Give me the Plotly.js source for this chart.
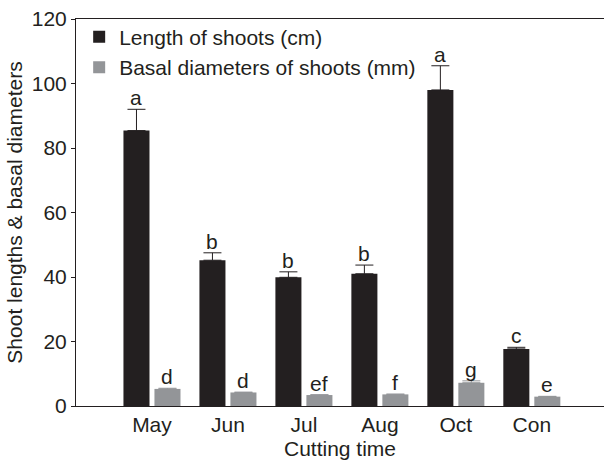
<!DOCTYPE html>
<html>
<head>
<meta charset="utf-8">
<script src="https://cdn.plot.ly/plotly-3.0.1.min.js"></script>
<style>html,body{margin:0;padding:0;background:#fff;}#chart{width:604px;height:463px;}</style>
</head>
<body>
<div id="chart"></div>
<script>
const categories = ["May", "Jun", "Jul", "Aug", "Oct", "Con"];
const lengthValues = [85.4, 45.2, 39.9, 41.0, 98.0, 17.7];
const lengthErrors = [6.6, 2.3, 1.7, 2.7, 7.5, 0.5];
const lengthLetters = ["a", "b", "b", "b", "a", "c"];
const diameterValues = [5.3, 4.2, 3.4, 3.6, 7.2, 2.9];
const diameterErrors = [0.2, 0.1, 0.1, 0.1, 0.6, 0.1];
const diameterLetters = ["d", "d", "ef", "f", "g", "e"];
const seriesNames = ["Length of shoots (cm)", "Basal diameters of shoots (mm)"];

const DARK = "#231f20";
const GRAY = "#939598";
const FONT = "Liberation Sans, Arial, Helvetica, sans-serif";
const FS = 21;

const traces = [
  {
    type: "bar", name: seriesNames[0], x: categories, y: lengthValues,
    marker: {color: DARK, line: {width: 0}},
    error_y: {type: "data", array: lengthErrors, symmetric: false, arrayminus: lengthErrors.map(() => 0), color: DARK, thickness: 1, width: 9},
    hoverinfo: "x+y"
  },
  {
    type: "bar", name: seriesNames[1], x: categories, y: diameterValues,
    marker: {color: GRAY, line: {width: 0}},
    error_y: {type: "data", array: diameterErrors, symmetric: false, arrayminus: diameterErrors.map(() => 0), color: GRAY, thickness: 1, width: 9},
    hoverinfo: "x+y"
  }
];

const annotations = [];
categories.forEach((c, i) => {
  annotations.push({x: c, y: lengthValues[i] + lengthErrors[i], xref: "x", yref: "y", text: lengthLetters[i], showarrow: false, yanchor: "bottom", xshift: -15.5, yshift: -2, font: {family: FONT, size: FS, color: DARK}});
  annotations.push({x: c, y: diameterValues[i] + diameterErrors[i], xref: "x", yref: "y", text: diameterLetters[i], showarrow: false, yanchor: "bottom", xshift: 15.5, yshift: -2, font: {family: FONT, size: FS, color: DARK}});
});

const layout = {
  width: 604, height: 463,
  margin: {l: 76, r: 0, t: 19, b: 57, pad: 0},
  paper_bgcolor: "#fff", plot_bgcolor: "#fff",
  font: {family: FONT, size: FS, color: DARK},
  barmode: "group", bargap: 0.184, bargroupgap: 0.16,
  showlegend: true,
  legend: {x: 0.006, y: 1.006, xanchor: "left", yanchor: "top", bgcolor: "rgba(0,0,0,0)", font: {family: FONT, size: FS, color: DARK}, tracegroupgap: 0},
  xaxis: {
    type: "category", range: [-1.0, 5.95], showline: true, linecolor: DARK, linewidth: 1, mirror: true,
    ticks: "", showgrid: false, zeroline: false, tickfont: {family: FONT, size: FS, color: DARK},
    title: {text: "Cutting time", font: {family: FONT, size: FS, color: DARK}, standoff: 6}
  },
  yaxis: {
    range: [0, 120], dtick: 20, showline: true, linecolor: DARK, linewidth: 1,
    ticks: "outside", ticklen: 4, tickcolor: DARK, showgrid: false, zeroline: false,
    tickfont: {family: FONT, size: FS, color: DARK},
    title: {text: "Shoot lengths & basal diameters", font: {family: FONT, size: FS, color: DARK}, standoff: 3}
  },
  annotations: annotations
};

Plotly.newPlot("chart", traces, layout, {displayModeBar: false, staticPlot: true});
</script>
</body>
</html>
